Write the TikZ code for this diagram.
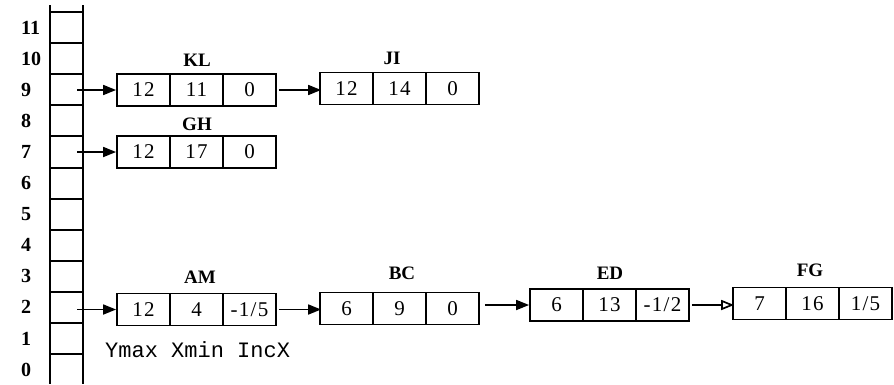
\documentclass[tikz,border=0pt]{standalone}
\usepackage{fontspec}
\setmainfont{Liberation Serif}
\newfontfamily\monofnt{Liberation Mono}
\newfontfamily\valfnt[LetterSpace=6]{Liberation Serif}
\usetikzlibrary{arrows.meta}
\newcommand\record[6]{%
  \node[cell] (#1-1) at (#2+26.5,#3) {#4};
  \node[cell] (#1-2) at (#2+79.5,#3) {#5};
  \node[cell] (#1-3) at (#2+132.5,#3) {#6};}
\begin{document}
\begin{tikzpicture}[x=1pt,y=-1pt,
  cell/.style={draw, line width=1.8pt, minimum width=53pt, minimum height=32pt, inner sep=0pt, font=\valfnt\fontsize{21}{21}\selectfont},
  reclabel/.style={font=\bfseries\fontsize{19}{19}\selectfont, inner sep=0pt},
  rowlabel/.style={font=\bfseries\fontsize{20}{20}\selectfont, inner sep=0pt, anchor=base west},
  fieldtext/.style={font=\monofnt\fontsize{22}{22}\selectfont, inner sep=0pt, anchor=base west},
  link/.style={line width=1.7pt, -{Triangle[length=13pt,width=10pt]}},
  openlink/.style={line width=1.7pt, -{Triangle[open,length=13pt,width=10pt]}},
  tbl/.style={line width=2pt}]
\useasboundingbox (0,0) rectangle (894,384);
% bucket table
\draw[tbl] (50,5) -- (50,384);
\draw[tbl] (83,5) -- (83,384);
\foreach \i in {0,...,11} \draw[tbl] (50,{12+31.1*\i}) -- (83,{12+31.1*\i});
\foreach \n [count=\i from 0] in {11,10,9,8,7,6,5,4,3,2,1,0}
  \node[rowlabel] (row\n) at (21,{12+31.1*(\i+0.5)+6.5}) {\n};
\coordinate (s9) at (77,90);
\coordinate (s7) at (77,152);
\coordinate (s2) at (77,309.5);
% records
\record{KL}{117}{90}{12}{11}{0}
\record{JI}{320}{88.5}{12}{14}{0}
\record{GH}{117}{152}{12}{17}{0}
\record{AM}{117}{309.5}{12}{4}{-1/5}
\record{BC}{320}{308.5}{6}{9}{0}
\record{ED}{530}{305}{6}{13}{-1/2}
\record{FG}{733}{303.5}{7}{16}{1/5}
% record labels
\node[reclabel] (lKL) at (197,60) {KL};
\node[reclabel] (lJI) at (392,58) {JI};
\node[reclabel] (lGH) at (197,124) {GH};
\node[reclabel] (lAM) at (200,277) {AM};
\node[reclabel] (lBC) at (402,273) {BC};
\node[reclabel] (lED) at (610,273) {ED};
\node[reclabel] (lFG) at (810,270) {FG};
\node[fieldtext] (fields) at (105,357) {Ymax Xmin IncX};
% links
\draw[link] (s9) -- (KL-1.west);
\draw[link] ([xshift=2pt]KL-3.east) -- ([xshift=2pt]KL-3.east -| JI-1.west);
\draw[link] (s7) -- (GH-1.west);
\draw[link] (s2) -- (AM-1.west);
\draw[link] ([xshift=2pt]AM-3.east) -- ([xshift=2pt]AM-3.east -| BC-1.west);
\draw[link] ([xshift=5pt]BC-3.east |- ED-1.west) -- (ED-1.west);
\draw[openlink] ([xshift=2pt]ED-3.east) -- ([xshift=2pt]ED-3.east -| FG-1.west);
\end{tikzpicture}
\end{document}
